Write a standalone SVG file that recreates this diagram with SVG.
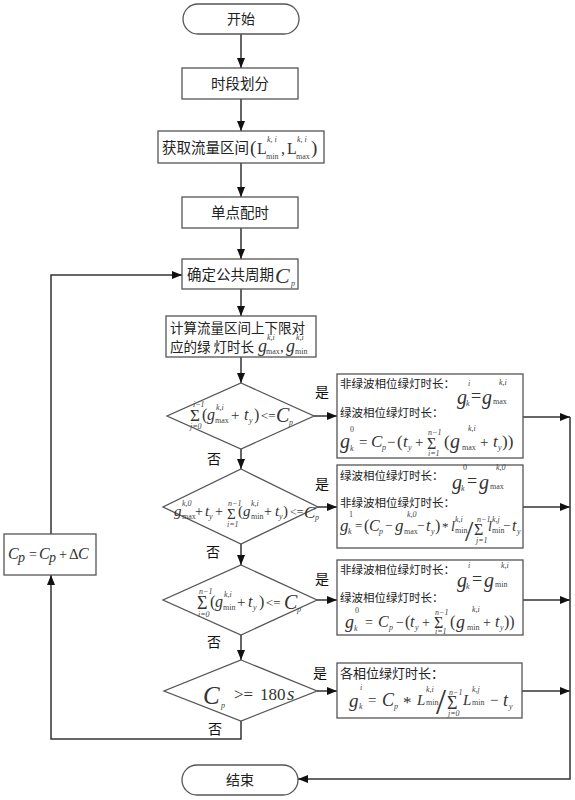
<svg xmlns="http://www.w3.org/2000/svg" width="575" height="800" viewBox="0 0 575 800">
<defs>
<marker id="ah" markerWidth="10" markerHeight="8" refX="10" refY="4" orient="auto" markerUnits="userSpaceOnUse">
<path d="M0,0 L10,4 L0,8 Z" fill="#111"/>
</marker>
</defs>
<style>
.box{fill:#fff;stroke:#555;stroke-width:1.3}
.ln{fill:none;stroke:#333;stroke-width:1.5;marker-end:url(#ah)}
.cn{font-family:"Noto Sans CJK SC","Noto Sans CJK JP",sans-serif;fill:#222}
.m{font-family:"Liberation Serif",serif;font-style:italic;fill:#333}
.r{font-family:"Liberation Serif",serif;fill:#333}
.s{font-family:"Liberation Serif",serif;font-size:8px;fill:#444}
.lbl{font-family:"Noto Sans CJK SC",sans-serif;font-size:14px;fill:#111;text-anchor:middle}
</style>
<rect width="575" height="800" fill="#fff"/>

<g id="connectors">
<path class="ln" d="M241,34 V68"/>
<path class="ln" d="M241,99 V131"/>
<path class="ln" d="M241,163 V197"/>
<path class="ln" d="M241,228 V259"/>
<path class="ln" d="M241,289 V316"/>
<path class="ln" d="M241,357 V383"/>
<path class="ln" d="M241,449 V469"/>
<path class="ln" d="M241,544 V565"/>
<path class="ln" d="M241,635 V660"/>
<path class="ln" d="M241,721 V739 H51 V575"/>
<path class="ln" d="M51,534 V275 H182"/>
<path class="ln" d="M314,416 H337"/>
<path class="ln" d="M318,507 H337"/>
<path class="ln" d="M317,600 H337"/>
<path class="ln" d="M317,691 H337"/>
<path class="ln" d="M523,417 H570"/>
<path class="ln" d="M523,507 H570"/>
<path class="ln" d="M523,600 H570"/>
<path class="ln" d="M522,691 H570"/>
<path class="ln" d="M570,417 V779 H298"/>
<text class="lbl" x="322" y="397">是</text>
<text class="lbl" x="214" y="464">否</text>
<text class="lbl" x="322" y="489">是</text>
<text class="lbl" x="213" y="557">否</text>
<text class="lbl" x="322" y="584">是</text>
<text class="lbl" x="214" y="647">否</text>
<text class="lbl" x="320" y="678">是</text>
<text class="lbl" x="215" y="734">否</text>
</g>

<g id="start">
<rect class="box" x="183" y="4" width="116" height="30" rx="15"/>
<text class="cn" x="241" y="24" font-size="14" text-anchor="middle">开始</text>
</g>

<g id="p1">
<rect class="box" x="182" y="68" width="116" height="31"/>
<text class="cn" x="240" y="89" font-size="14.5" text-anchor="middle">时段划分</text>
</g>

<g id="p2">
<rect class="box" x="158" y="131" width="166" height="32"/>
<text class="cn" x="162" y="153" font-size="14.5">获取流量区间</text>
<text class="r" x="250" y="154" font-size="19">(</text>
<text class="r" x="257" y="154" font-size="16">L</text>
<text class="s" x="267" y="142" font-size="7" font-style="italic">k, i</text>
<text class="s" x="266" y="159" font-size="7">min</text>
<text class="r" x="281" y="154" font-size="16">,</text>
<text class="r" x="287" y="154" font-size="16">L</text>
<text class="s" x="297" y="142" font-size="7" font-style="italic">k, i</text>
<text class="s" x="296" y="159" font-size="7">max</text>
<text class="r" x="311" y="154" font-size="19">)</text>
</g>

<g id="p3">
<rect class="box" x="182" y="197" width="116" height="31"/>
<text class="cn" x="240" y="218" font-size="14.5" text-anchor="middle">单点配时</text>
</g>

<g id="p4">
<rect class="box" x="182" y="259" width="116" height="30"/>
<text class="cn" x="187" y="280" font-size="14.5">确定公共周期</text>
<text class="m" x="275" y="283" font-size="22">C</text>
<text class="s" x="291" y="286" font-size="7" font-style="italic">p</text>
</g>

<g id="p5">
<rect class="box" x="166" y="316" width="150" height="41"/>
<text class="cn" x="170" y="333" font-size="13.5">计算流量区间上下限对</text>
<text class="cn" x="170" y="352" font-size="13.5">应的绿 灯时长</text>
<text class="m" x="258" y="352" font-size="18">g</text>
<text class="s" x="267" y="340" font-size="6" font-style="italic">k,i</text>
<text class="s" x="266" y="354" font-size="7">max</text>
<text class="r" x="280" y="352" font-size="15">,</text>
<text class="m" x="286" y="352" font-size="18">g</text>
<text class="s" x="296" y="340" font-size="6" font-style="italic">k,i</text>
<text class="s" x="295" y="354" font-size="7">min</text>
</g>

<g id="d1">
<polygon class="box" points="241,383 314,416 241,449 167,416"/>
<text class="r" x="190" y="421" font-size="17">Σ</text>
<text class="s" x="193" y="407" font-size="6" font-style="italic">i−1</text>
<text class="s" x="190" y="429" font-size="6" font-style="italic">j=0</text>
<text class="r" x="202" y="420" font-size="16">(</text>
<text class="m" x="207" y="420" font-size="16">g</text>
<text class="s" x="216" y="410" font-size="6" font-style="italic">k,i</text>
<text class="s" x="215" y="423" font-size="7">max</text>
<text class="r" x="231" y="420" font-size="15">+</text>
<text class="m" x="244" y="420" font-size="16">t</text>
<text class="s" x="249" y="423" font-size="7" font-style="italic">y</text>
<text class="r" x="254" y="420" font-size="16">)</text>
<text class="r" x="261" y="420" font-size="13">&lt;=</text>
<text class="m" x="276" y="422" font-size="20">C</text>
<text class="s" x="289" y="425" font-size="6" font-style="italic">p</text>
</g>

<g id="d2">
<polygon class="box" points="241,469 318,507 241,544 163,507"/>
<text class="m" x="174" y="516" font-size="15">g</text>
<text class="s" x="182" y="506" font-size="6" font-style="italic">k,0</text>
<text class="s" x="182" y="519" font-size="6">max</text>
<text class="r" x="195" y="516" font-size="14">+</text>
<text class="m" x="205" y="516" font-size="15">t</text>
<text class="s" x="209" y="519" font-size="6" font-style="italic">y</text>
<text class="r" x="215" y="516" font-size="14">+</text>
<text class="r" x="227" y="519" font-size="15">Σ</text>
<text class="s" x="228" y="506" font-size="6" font-style="italic">n−1</text>
<text class="s" x="227" y="527" font-size="6" font-style="italic">i=1</text>
<text class="r" x="238" y="516" font-size="15">(</text>
<text class="m" x="243" y="516" font-size="15">g</text>
<text class="s" x="251" y="506" font-size="6" font-style="italic">k,i</text>
<text class="s" x="251" y="519" font-size="6">min</text>
<text class="r" x="264" y="516" font-size="14">+</text>
<text class="m" x="275" y="516" font-size="15">t</text>
<text class="s" x="279" y="519" font-size="6" font-style="italic">y</text>
<text class="r" x="283" y="516" font-size="15">)</text>
<text class="r" x="290" y="516" font-size="12">&lt;=</text>
<text class="m" x="304" y="518" font-size="17">C</text>
<text class="s" x="315" y="520" font-size="6" font-style="italic">p</text>
</g>

<g id="d3">
<polygon class="box" points="241,565 317,600 241,635 163,600"/>
<text class="r" x="197" y="609" font-size="18">Σ</text>
<text class="s" x="199" y="594" font-size="6" font-style="italic">n−1</text>
<text class="s" x="198" y="617" font-size="6" font-style="italic">i=0</text>
<text class="r" x="210" y="607" font-size="16">(</text>
<text class="m" x="215" y="607" font-size="16">g</text>
<text class="s" x="224" y="597" font-size="6" font-style="italic">k,i</text>
<text class="s" x="223" y="610" font-size="7">min</text>
<text class="r" x="237" y="607" font-size="15">+</text>
<text class="m" x="248" y="607" font-size="16">t</text>
<text class="s" x="253" y="610" font-size="7" font-style="italic">y</text>
<text class="r" x="259" y="607" font-size="16">)</text>
<text class="r" x="266" y="607" font-size="13">&lt;=</text>
<text class="m" x="284" y="609" font-size="20">C</text>
<text class="s" x="297" y="612" font-size="6" font-style="italic">p</text>
</g>

<g id="d4">
<polygon class="box" points="241,660 317,691 241,721 164,691"/>
<text class="m" x="203" y="704" font-size="25">C</text>
<text class="s" x="221" y="708" font-size="6" font-style="italic">p</text>
<text class="r" x="234" y="700" font-size="17">&gt;=</text>
<text class="r" x="260" y="700" font-size="17">180</text>
<text class="m" x="287" y="700" font-size="19">s</text>
</g>

<g id="b1">
<rect class="box" x="337" y="374" width="186" height="84"/>
<text class="cn" x="340" y="388" font-size="11.5">非绿波相位绿灯时长：</text>
<text class="m" x="457" y="404" font-size="20">g</text>
<text class="s" x="468" y="386" font-size="7" font-style="italic">i</text>
<text class="s" x="466" y="406" font-size="7" font-style="italic">k</text>
<text class="r" x="471" y="402" font-size="18">=</text>
<text class="m" x="482" y="404" font-size="20">g</text>
<text class="s" x="499" y="385" font-size="7" font-style="italic">k,i</text>
<text class="s" x="493" y="404" font-size="9">max</text>
<text class="cn" x="340" y="417" font-size="11.5">绿波相位绿灯时长：</text>
<text class="m" x="340" y="448" font-size="20">g</text>
<text class="s" x="350" y="432" font-size="7">0</text>
<text class="s" x="350" y="451" font-size="7" font-style="italic">k</text>
<text class="r" x="359" y="447" font-size="15">=</text>
<text class="m" x="371" y="447" font-size="17">C</text>
<text class="s" x="382" y="450" font-size="6" font-style="italic">p</text>
<text class="r" x="387" y="447" font-size="15">−</text>
<text class="r" x="397" y="447" font-size="17">(</text>
<text class="m" x="403" y="447" font-size="17">t</text>
<text class="s" x="408" y="450" font-size="6" font-style="italic">y</text>
<text class="r" x="415" y="447" font-size="15">+</text>
<text class="r" x="427" y="449" font-size="16">Σ</text>
<text class="s" x="428" y="435" font-size="6" font-style="italic">n−1</text>
<text class="s" x="428" y="456" font-size="6" font-style="italic">i=1</text>
<text class="r" x="444" y="447" font-size="17">(</text>
<text class="m" x="450" y="448" font-size="20">g</text>
<text class="s" x="468" y="431" font-size="7" font-style="italic">k,i</text>
<text class="s" x="462" y="450" font-size="7">max</text>
<text class="r" x="480" y="447" font-size="15">+</text>
<text class="m" x="493" y="447" font-size="17">t</text>
<text class="s" x="498" y="450" font-size="6" font-style="italic">y</text>
<text class="r" x="502" y="447" font-size="17">))</text>
</g>

<g id="b2">
<rect class="box" x="337" y="465" width="186" height="83"/>
<text class="cn" x="340" y="480" font-size="11.5">绿波相位绿灯时长：</text>
<text class="m" x="452" y="489" font-size="20">g</text>
<text class="s" x="463" y="470" font-size="7">0</text>
<text class="s" x="461" y="491" font-size="7" font-style="italic">k</text>
<text class="r" x="467" y="487" font-size="18">=</text>
<text class="m" x="479" y="489" font-size="20">g</text>
<text class="s" x="496" y="470" font-size="7" font-style="italic">k,0</text>
<text class="s" x="490" y="489" font-size="9">max</text>
<text class="cn" x="340" y="507" font-size="11.5">非绿波相位绿灯时长：</text>
<text class="m" x="340" y="531" font-size="17">g</text>
<text class="s" x="349" y="517" font-size="6">1</text>
<text class="s" x="348" y="534" font-size="6" font-style="italic">k</text>
<text class="r" x="355" y="530" font-size="13">=</text>
<text class="r" x="364" y="531" font-size="16">(</text>
<text class="m" x="369" y="531" font-size="16">C</text>
<text class="s" x="379" y="534" font-size="6" font-style="italic">p</text>
<text class="r" x="385" y="530" font-size="13">−</text>
<text class="m" x="395" y="531" font-size="17">g</text>
<text class="s" x="407" y="517" font-size="6" font-style="italic">k,0</text>
<text class="s" x="404" y="534" font-size="6">max</text>
<text class="r" x="417" y="530" font-size="13">−</text>
<text class="m" x="426" y="531" font-size="16">t</text>
<text class="s" x="431" y="534" font-size="6" font-style="italic">y</text>
<text class="r" x="435" y="531" font-size="16">)</text>
<text class="r" x="442" y="531" font-size="13">*</text>
<text class="m" x="451" y="531" font-size="14">l</text>
<text class="s" x="455" y="522" font-size="6" font-style="italic">k,i</text>
<text class="s" x="455" y="533" font-size="6">min</text>
<text class="r" x="465" y="541" font-size="30">/</text>
<text class="r" x="474" y="535" font-size="16">Σ</text>
<text class="s" x="477" y="522" font-size="6" font-style="italic">n−1</text>
<text class="s" x="476" y="543" font-size="6" font-style="italic">j=1</text>
<text class="m" x="488" y="531" font-size="14">l</text>
<text class="s" x="492" y="522" font-size="6" font-style="italic">k,j</text>
<text class="s" x="492" y="533" font-size="6">min</text>
<text class="r" x="503" y="530" font-size="13">−</text>
<text class="m" x="512" y="531" font-size="16">t</text>
<text class="s" x="517" y="534" font-size="6" font-style="italic">y</text>
</g>

<g id="b3">
<rect class="box" x="337" y="560" width="186" height="75"/>
<text class="cn" x="340" y="574" font-size="11.5">非绿波相位绿灯时长：</text>
<text class="m" x="457" y="587" font-size="20">g</text>
<text class="s" x="468" y="568" font-size="7" font-style="italic">i</text>
<text class="s" x="466" y="589" font-size="7" font-style="italic">k</text>
<text class="r" x="472" y="585" font-size="18">=</text>
<text class="m" x="484" y="587" font-size="20">g</text>
<text class="s" x="501" y="568" font-size="7" font-style="italic">k,i</text>
<text class="s" x="495" y="587" font-size="9">min</text>
<text class="cn" x="340" y="602" font-size="11.5">绿波相位绿灯时长：</text>
<text class="m" x="345" y="628" font-size="18">g</text>
<text class="s" x="355" y="613" font-size="6">0</text>
<text class="s" x="354" y="631" font-size="6" font-style="italic">k</text>
<text class="r" x="365" y="627" font-size="14">=</text>
<text class="m" x="378" y="627" font-size="16">C</text>
<text class="s" x="389" y="630" font-size="6" font-style="italic">p</text>
<text class="r" x="396" y="627" font-size="14">−</text>
<text class="r" x="405" y="627" font-size="16">(</text>
<text class="m" x="410" y="627" font-size="16">t</text>
<text class="s" x="415" y="630" font-size="6" font-style="italic">y</text>
<text class="r" x="422" y="627" font-size="14">+</text>
<text class="r" x="434" y="628" font-size="16">Σ</text>
<text class="s" x="435" y="615" font-size="6" font-style="italic">n−1</text>
<text class="s" x="435" y="634" font-size="6" font-style="italic">i=1</text>
<text class="r" x="450" y="627" font-size="16">(</text>
<text class="m" x="456" y="628" font-size="18">g</text>
<text class="s" x="472" y="612" font-size="6" font-style="italic">k,i</text>
<text class="s" x="467" y="630" font-size="6">min</text>
<text class="r" x="483" y="627" font-size="14">+</text>
<text class="m" x="495" y="627" font-size="16">t</text>
<text class="s" x="500" y="630" font-size="6" font-style="italic">y</text>
<text class="r" x="504" y="627" font-size="16">))</text>
</g>

<g id="b4">
<rect class="box" x="337" y="663" width="185" height="55"/>
<text class="cn" x="340" y="678" font-size="13">各相位绿灯时长：</text>
<text class="m" x="349" y="707" font-size="19">g</text>
<text class="s" x="360" y="690" font-size="6" font-style="italic">i</text>
<text class="s" x="359" y="709" font-size="6" font-style="italic">k</text>
<text class="r" x="368" y="705" font-size="15">=</text>
<text class="m" x="382" y="706" font-size="18">C</text>
<text class="s" x="394" y="709" font-size="6" font-style="italic">p</text>
<text class="r" x="403" y="708" font-size="17">*</text>
<text class="m" x="417" y="705" font-size="15">L</text>
<text class="s" x="426" y="692" font-size="6" font-style="italic">k,i</text>
<text class="s" x="426" y="705" font-size="7">min</text>
<text class="r" x="436" y="714" font-size="36">/</text>
<text class="r" x="447" y="709" font-size="18">Σ</text>
<text class="s" x="449" y="695" font-size="6" font-style="italic">n−1</text>
<text class="s" x="448" y="716" font-size="6" font-style="italic">j=0</text>
<text class="m" x="463" y="705" font-size="15">L</text>
<text class="s" x="472" y="692" font-size="6" font-style="italic">k,j</text>
<text class="s" x="472" y="705" font-size="7">min</text>
<text class="r" x="490" y="705" font-size="15">−</text>
<text class="m" x="503" y="706" font-size="18">t</text>
<text class="s" x="509" y="709" font-size="6" font-style="italic">y</text>
</g>

<g id="loop">
<rect class="box" x="4" y="534" width="92" height="41"/>
<text class="m" x="8" y="559" font-size="16">C</text>
<text class="m" x="18" y="562" font-size="14">p</text>
<text class="r" x="29" y="559" font-size="14">=</text>
<text class="m" x="39" y="559" font-size="16">C</text>
<text class="m" x="49" y="562" font-size="14">p</text>
<text class="r" x="59" y="559" font-size="14">+</text>
<text class="r" x="69" y="559" font-size="15">Δ</text>
<text class="m" x="78" y="559" font-size="16">C</text>
</g>

<g id="end">
<rect class="box" x="182" y="765" width="116" height="30" rx="15"/>
<text class="cn" x="240" y="785" font-size="14" text-anchor="middle">结束</text>
</g>
</svg>
